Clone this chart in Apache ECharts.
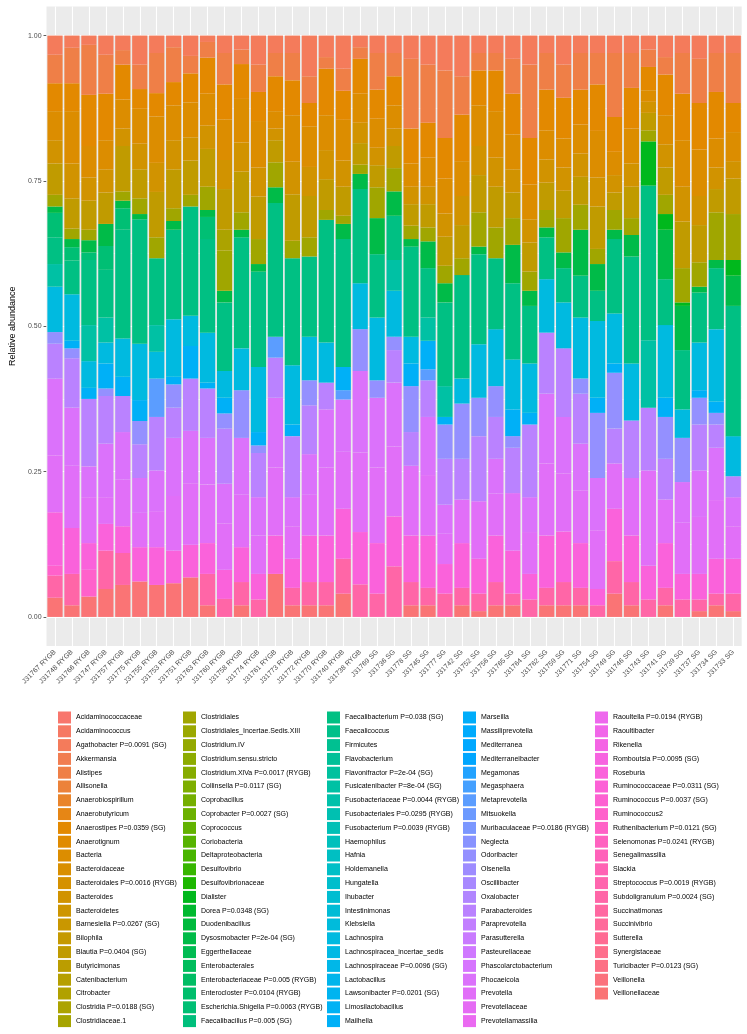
<!DOCTYPE html>
<html><head><meta charset="utf-8">
<script src="https://cdn.jsdelivr.net/npm/echarts@6/dist/echarts.min.js"></script>
<style>html,body{margin:0;padding:0;background:#fff}#c{width:747px;height:1034px}</style>
</head><body><div id="c"></div>
<script>
// ---------- categories ----------
const samples = ["J31767 RYGB","J31748 RYGB","J31766 RYGB","J31747 RYGB","J31757 RYGB","J31775 RYGB","J31755 RYGB","J31753 RYGB","J31751 RYGB","J31763 RYGB","J31760 RYGB","J31758 RYGB","J31774 RYGB","J31761 RYGB","J31773 RYGB","J31772 RYGB","J31770 RYGB","J31740 RYGB","J31738 RYGB","J31769 SG","J31736 SG","J31778 SG","J31745 SG","J31777 SG","J31742 SG","J31752 SG","J31756 SG","J31765 SG","J31764 SG","J31762 SG","J31759 SG","J31771 SG","J31754 SG","J31749 SG","J31746 SG","J31743 SG","J31741 SG","J31739 SG","J31737 SG","J31734 SG","J31733 SG"];

const taxaCol1 = ["Acidaminococcaceae","Acidaminococcus","Agathobacter P=0.0091 (SG)","Akkermansia","Alistipes","Allisonella","Anaerobiospirillum","Anaerobutyricum","Anaerostipes P=0.0359 (SG)","Anaerotignum","Bacteria","Bacteroidaceae","Bacteroidales P=0.0016 (RYGB)","Bacteroides","Bacteroidetes","Barnesiella P=0.0267 (SG)","Bilophila","Blautia P=0.0404 (SG)","Butyricimonas","Catenibacterium","Citrobacter","Clostridia P=0.0188 (SG)","Clostridiaceae.1"];
const taxaCol2 = ["Clostridiales","Clostridiales_Incertae.Sedis.XIII","Clostridium.IV","Clostridium.sensu.stricto","Clostridium.XlVa P=0.0017 (RYGB)","Collinsella P=0.0117 (SG)","Coprobacillus","Coprobacter P=0.0027 (SG)","Coprococcus","Coriobacteria","Deltaproteobacteria","Desulfovibrio","Desulfovibrionaceae","Dialister","Dorea P=0.0348 (SG)","Duodenibacillus","Dysosmobacter P=2e-04 (SG)","Eggerthellaceae","Enterobacterales","Enterobacteriaceae P=0.005 (RYGB)","Enterocloster P=0.0104 (RYGB)","Escherichia.Shigella P=0.0063 (RYGB)","Faecalibacillus P=0.005 (SG)"];
const taxaCol3 = ["Faecalibacterium P=0.038 (SG)","Faecalicoccus","Firmicutes","Flavobacterium","Flavonifractor P=2e-04 (SG)","Fusicatenibacter P=8e-04 (SG)","Fusobacteriaceae P=0.0044 (RYGB)","Fusobacteriales P=0.0295 (RYGB)","Fusobacterium P=0.0039 (RYGB)","Haemophilus","Hafnia","Holdemanella","Hungatella","Ihubacter","Intestinimonas","Klebsiella","Lachnospira","Lachnospiracea_incertae_sedis","Lachnospiraceae P=0.0096 (SG)","Lactobacillus","Lawsonibacter P=0.0201 (SG)","Limosilactobacillus","Mailhella"];
const taxaCol4 = ["Marseilla","Massiliprevotella","Mediterranea","Mediterraneibacter","Megamonas","Megasphaera","Metaprevotella","Mitsuokella","Muribaculaceae P=0.0186 (RYGB)","Neglecta","Odoribacter","Olsenella","Oscillibacter","Oxalobacter","Parabacteroides","Paraprevotella","Parasutterella","Pasteurellaceae","Phascolarctobacterium","Phocaeicola","Prevotella","Prevotellaceae","Prevotellamassilia"];
const taxaCol5 = ["Raoultella P=0.0194 (RYGB)","Raoultibacter","Rikenella","Romboutsia P=0.0095 (SG)","Roseburia","Ruminococcaceae P=0.0311 (SG)","Ruminococcus P=0.0037 (SG)","Ruminococcus2","Ruthenibacterium P=0.0121 (SG)","Selenomonas P=0.0241 (RYGB)","Senegalimassilia","Slackia","Streptococcus P=0.0019 (RYGB)","Subdoligranulum P=0.0024 (SG)","Succinatimonas","Succinivibrio","Sutterella","Synergistaceae","Turicibacter P=0.0123 (SG)","Veillonella","Veillonellaceae"];

const yTicks = [0, 25, 50, 75, 100];           // percent
const yMinor = [12.5, 37.5, 62.5, 87.5];

// ---------- series values (percent abundance per sample, estimated) ----------
const agathobacter = [3.3,2.1,1.6,3.3,2.5,5.0,3.0,2.0,3.5,1.1, 3.0,2.4,5.0,3.0,3.0,7.0,3.7,5.7,2.0,3.0, 3.0,4.0,5.0,6.0,7.0,3.0,3.0,4.0,5.0,3.0, 5.0,3.0,3.0,3.0,3.0,2.4,3.7,3.0,4.0,3.0,3.0];
const alistipes = [4.9,6.1,8.6,6.7,2.5,4.2,6.9,6.0,3.0,2.7, 5.4,2.5,4.7,4.0,4.7,4.6,2.0,3.8,2.0,6.3, 4.0,12.0,10.0,11.6,6.6,3.0,3.0,6.0,12.6,6.3, 5.7,6.3,5.4,11.0,6.0,3.0,3.0,7.0,7.6,6.7,8.6];
const anaerostipes = [4.8,4.8,8.8,8.0,6.0,3.4,4.0,4.0,5.0,6.2, 6.0,6.0,5.0,6.0,6.0,4.0,8.0,5.0,6.0,5.0, 5.0,6.0,6.0,7.0,8.0,6.0,7.0,7.0,8.0,7.0, 7.0,6.0,8.0,6.0,7.0,4.0,7.0,8.0,8.0,8.0,5.0];
const bacteria = [5.0,9.0,5.4,5.0,5.0,6.0,8.0,6.0,6.0,5.5, 7.0,7.5,8.0,3.0,8.0,7.0,6.0,7.0,5.0,5.0, 4.0,4.0,5.0,6.0,6.0,7.0,8.0,6.0,6.0,5.0, 5.0,5.0,8.0,4.0,6.0,2.0,5.0,8.0,8.0,5.0,5.0];
const bacteroides = [4.0,6.0,4.0,4.0,3.0,4.4,5.0,5.0,4.0,4.0, 5.0,5.0,5.0,2.0,5.6,5.0,5.0,4.5,3.5,3.0, 3.0,3.0,3.0,4.0,5.0,5.0,5.0,4.0,4.0,4.0, 4.0,4.0,5.0,3.0,4.0,1.9,4.0,6.0,5.0,3.7,3.0];
const blautia = [5.4,5.2,5.0,5.4,7.8,5.0,7.8,6.7,5.9,6.5, 7.0,7.0,7.3,3.8,8.0,7.1,5.3,5.0,3.7,3.8, 3.8,3.7,4.0,5.0,5.7,6.4,7.0,4.4,5.0,4.7, 4.7,4.8,7.3,3.0,5.4,3.0,4.7,8.0,6.4,4.0,6.1];
const clostridia = [0,0,0,0,0,0,0,0,0,0, 3.6,0,0,0,0,0,0,0,0,0, 0,0,0,0,0,0,0,0,0,0, 0,0,0,0,0,0,0,0,0,0,0];
const clostridiales = [2.0,1.8,1.8,0,1.6,2.7,3.6,2.2,2.0,4.0, 6.9,3.0,4.3,4.3,3.0,3.3,1.7,1.4,1.6,5.3, 4.0,2.3,2.4,3.0,2.9,5.9,5.3,4.6,3.3,3.0, 5.9,4.3,2.6,3.4,2.9,1.9,3.3,5.9,4.2,8.2,7.9];
const dialister = [0,0,0,0,0,0,0,0,0,0, 0,0,0,0,0,0,0,0,0,0, 0,0,0,0,0,0,0,0,0,0, 0,0,0,0,0,7.6,2.7,0.6,0,0,2.7];
const dysosmobacter = [1.1,1.4,2.1,3.8,1.3,0.9,0,1.5,0,1.2, 2.0,1.3,1.3,2.7,0,0,0,2.6,2.6,6.2, 4.2,1.3,4.6,3.3,0,1.3,0,6.6,2.6,1.7, 2.7,7.9,4.6,1.6,3.7,0,8.5,7.6,1.0,1.4,5.2];
const escherichia = [4.2,2.3,1.3,4.1,3.7,0,0,0,0,3.8, 0,0,0,0,0,0,0,0,0,0, 0,0,0,0,0,0,0,0,0,0, 0,0,0,0,0,0,0,0,0,0,0];
const faecalibacterium = [4.6,5.8,11.2,8.2,18.7,21.4,11.5,15.4,18.8,16.1, 11.8,19.1,16.4,23.0,18.4,13.8,21.1,22.0,16.2,10.9, 7.6,15.5,8.5,14.4,17.8,15.5,12.2,13.1,9.9,7.2, 5.9,7.2,5.2,12.8,18.4,26.6,7.9,10.2,8.6,10.5,22.4];
const fusicatenibacter = [3.9,0,6.2,4.3,0,0,4.6,0,0,0, 0,0,0,0,0,0,0,0,0,0, 5.3,0,4.0,5.3,0,0,0,0,0,0, 0,0,0,0,0,11.6,0,0,0,0,0];
const lachnospira = [7.8,8.0,4.6,3.6,6.6,9.7,4.6,9.9,5.2,8.6, 4.6,7.2,11.2,0,10.2,7.5,6.9,0,7.9,10.8, 7.9,4.6,0,0,4.3,9.2,9.8,8.6,8.5,9.2, 7.9,10.5,13.2,8.6,9.8,0,12.5,4.9,8.2,12.5,6.9];
const mailhella = [0,1.3,1.9,4.3,3.3,3.6,0,1.3,5.6,1.0, 2.7,0,2.3,0,2.0,0,0,4.0,0,0, 0,3.9,4.9,1.3,0,0,0,4.6,2.0,0, 0,0,2.6,1.6,0,0,3.3,0,1.3,1.9,0];
const metaprevotella = [0,0,0,0,0,0,6.6,0,0,0, 0,0,0,3.6,0,0,0,1.6,0,0, 0,0,1.9,0,0,0,0,0,0,0, 0,0,0,0,0,0,0,0,0,0,0];
const odoribacter = [2.0,1.7,0,1.3,0,4.0,0,4.0,0,0, 2.6,8.2,1.3,0,0,4.3,0,0,7.2,3.0, 2.3,7.9,0,5.9,9.5,6.6,5.3,2.0,0,0, 0,2.6,11.2,9.6,0,0,7.2,7.6,4.6,2.0,0];
const parabacteroides = [6.0,8.5,11.6,8.2,6.2,5.8,9.2,5.2,9.0,8.5, 9.5,0,7.6,6.9,10.5,8.4,4.6,0,0,0, 5.6,5.8,6.3,7.9,7.0,11.2,7.2,7.8,12.5,10.5, 11.8,8.6,0,6.0,9.9,10.8,7.0,0,7.9,4.0,3.6];
const phocaeicola = [13.2,10.0,5.3,9.2,8.2,6.0,7.0,10.0,9.0,8.0, 6.8,9.8,6.6,12.0,5.0,7.0,10.0,9.0,14.0,12.0, 11.0,0,10.0,5.0,0,0,6.0,0,6.0,12.0, 9.7,8.0,9.0,0,0,0,0,7.0,8.0,9.0,5.0];
const prevotella = [9.8,10.7,7.9,4.6,8.0,5.9,6.2,9.4,10.6,10.1, 8.0,9.0,6.6,11.7,5.6,7.0,11.7,9.8,13.7,13.0, 12.0,12.0,10.4,5.2,7.5,9.9,7.2,9.9,7.2,12.4, 10.0,9.1,10.1,7.8,9.9,16.4,7.5,8.8,9.8,10.1,5.6];
const roseburia = [9.2,7.9,4.6,4.6,4.6,5.9,6.5,5.6,5.6,5.3, 5.0,6.0,4.4,6.6,5.0,8.0,8.0,8.6,9.0,8.7, 8.6,8.0,9.0,5.1,7.7,6.0,8.0,7.4,4.4,9.0, 8.7,7.7,2.8,9.0,8.0,5.8,7.7,4.4,4.4,6.0,6.0];
const ruminococcus2 = [1.7,0,4.6,0,0,0,0,0,0,0, 0,0,0,0,0,0,0,0,0,0, 0,0,0,0,0,0,0,0,0,0, 0,0,0,0,0,0,0,0,0,0,0];
const subdoligranulum = [3.8,5.4,0,6.6,5.5,0,0,0,0,5.4, 3.1,4.0,3.0,0,3.0,4.0,4.0,6.0,5.6,4.0, 8.7,4.0,3.0,4.0,3.0,3.0,4.0,2.0,3.0,3.0, 4.0,3.0,2.0,5.6,4.0,3.0,3.0,3.0,2.0,2.0,3.0];
const veillonellaceae = [3.3,2.0,3.5,4.8,5.5,6.1,5.5,5.8,6.8,2.0, 0,2.0,0,7.4,2.0,2.0,2.0,4.0,0,0, 0,2.0,2.0,0,2.0,1.0,2.0,2.0,0,2.0, 2.0,2.0,0,4.0,2.0,0,2.0,0,1.0,2.0,1.0];

const seriesValues = [
  ["Agathobacter P=0.0091 (SG)", agathobacter],
  ["Alistipes", alistipes],
  ["Anaerostipes P=0.0359 (SG)", anaerostipes],
  ["Bacteria", bacteria],
  ["Bacteroides", bacteroides],
  ["Blautia P=0.0404 (SG)", blautia],
  ["Clostridia P=0.0188 (SG)", clostridia],
  ["Clostridiales", clostridiales],
  ["Dialister", dialister],
  ["Dysosmobacter P=2e-04 (SG)", dysosmobacter],
  ["Escherichia.Shigella P=0.0063 (RYGB)", escherichia],
  ["Faecalibacterium P=0.038 (SG)", faecalibacterium],
  ["Fusicatenibacter P=8e-04 (SG)", fusicatenibacter],
  ["Lachnospira", lachnospira],
  ["Mailhella", mailhella],
  ["Metaprevotella", metaprevotella],
  ["Odoribacter", odoribacter],
  ["Parabacteroides", parabacteroides],
  ["Phocaeicola", phocaeicola],
  ["Prevotella", prevotella],
  ["Roseburia", roseburia],
  ["Ruminococcus2", ruminococcus2],
  ["Subdoligranulum P=0.0024 (SG)", subdoligranulum],
  ["Veillonellaceae", veillonellaceae]
];

// ---------- ggplot2 default hue palette (hcl, c=100, l=65) ----------
function hcl(h, c, l) {
  const WX = 95.047, WY = 100.0, WZ = 108.883;
  const hr = h * Math.PI / 180;
  const U = c * Math.cos(hr), V = c * Math.sin(hr);
  const Y = WY * (l > 7.999592 ? Math.pow((l + 16) / 116, 3) : l / 903.3);
  const t = WX + WY + WZ, x = WX / t, y = WY / t;
  const uN = 2 * x / (6 * y - x + 1.5), vN = 4.5 * y / (6 * y - x + 1.5);
  const u = U / (13 * l) + uN, v = V / (13 * l) + vN;
  const X = 9.0 * Y * u / (4 * v);
  const Z = -X / 3 - 5 * Y + 3 * Y / v;
  const g = q => { q = q > 0.00304 ? 1.055 * Math.pow(q, 1 / 2.4) - 0.055 : 12.92 * q; return Math.round(255 * Math.min(1, Math.max(0, q))); };
  const r = g((3.240479 * X - 1.537150 * Y - 0.498535 * Z) / WY);
  const gg = g((-0.969256 * X + 1.875992 * Y + 0.041556 * Z) / WY);
  const b = g((0.055648 * X - 0.204043 * Y + 1.057311 * Z) / WY);
  return '#' + [r, gg, b].map(n => n.toString(16).padStart(2, '0')).join('');
}

const taxa = taxaCol1.concat(taxaCol2, taxaCol3, taxaCol4, taxaCol5);
const n = taxa.length;
const colors = taxa.map((_, i) => hcl(15 + 360 * i / n, 100, 65));
const valueOf = {};
seriesValues.forEach(([k, a]) => { valueOf[k] = a; });

const FONT = 'Liberation Sans, Arial, Helvetica, sans-serif';
const series = [];
// ggplot stacks the first level on top: add series bottom-up
for (let i = n - 1; i >= 0; i--) {
  series.push({
    name: taxa[i], type: 'bar', stack: 'total', barCategoryGap: '10%',
    data: valueOf[taxa[i]] || [],
    itemStyle: { color: colors[i] },
    emphasis: { disabled: true }, animation: false
  });
}
// panel grid lines (drawn beneath the bars)
const gridLines = [];
yTicks.forEach(v => gridLines.push({ yAxis: v, lineStyle: { color: '#ffffff', width: 1.1, type: 'solid' } }));
yMinor.forEach(v => gridLines.push({ yAxis: v, lineStyle: { color: '#ffffff', width: 0.5, type: 'solid' } }));
samples.forEach((s, i) => gridLines.push({ xAxis: i, lineStyle: { color: '#ffffff', width: 1.1, type: 'solid' } }));
series.push({
  name: '_grid', type: 'line', data: [], silent: true, animation: false,
  markLine: { z: 1, silent: true, symbol: ['none', 'none'], label: { show: false }, animation: false, data: gridLines }
});

const legendCols = [taxaCol1, taxaCol2, taxaCol3, taxaCol4, taxaCol5];
const legendLeft = [58, 183, 327, 463, 595];
const legends = legendCols.map((col, k) => ({
  orient: 'vertical', left: legendLeft[k], top: 711.5, padding: 0,
  itemWidth: 13, itemHeight: 12, itemGap: 1.8, icon: 'rect',
  selectedMode: false,
  textStyle: { fontSize: 7, color: '#000', fontFamily: FONT },
  data: col
}));

const chart = echarts.init(document.getElementById('c'), null, { renderer: 'canvas' });
chart.setOption({
  animation: false,
  backgroundColor: '#ffffff',
  grid: { left: 31.7, right: 5.3, top: 6.5, bottom: 388, show: true, backgroundColor: '#EBEBEB', borderWidth: 0 },
  xAxis: {
    type: 'category', data: samples, boundaryGap: true,
    axisLine: { show: false },
    axisTick: { show: true, alignWithLabel: true, length: 3, lineStyle: { color: '#333333', width: 0.8 } },
    axisLabel: { rotate: 45, fontSize: 7, color: '#4D4D4D', fontFamily: FONT, margin: 5, interval: 0 },
    splitLine: { show: false }
  },
  yAxis: {
    type: 'value', min: -5, max: 105,
    name: 'Relative abundance', nameLocation: 'middle', nameRotate: 90, nameGap: 25,
    nameTextStyle: { fontSize: 9, color: '#000', fontFamily: FONT },
    axisLine: { show: false },
    axisTick: { show: true, length: 3, customValues: yTicks, lineStyle: { color: '#333333', width: 0.8 } },
    axisLabel: { customValues: yTicks, fontSize: 7, color: '#4D4D4D', fontFamily: FONT, margin: 5,
      formatter: v => (v / 100).toFixed(2) },
    splitLine: { show: false }
  },
  legend: legends,
  series: series
});
</script>
</body></html>
